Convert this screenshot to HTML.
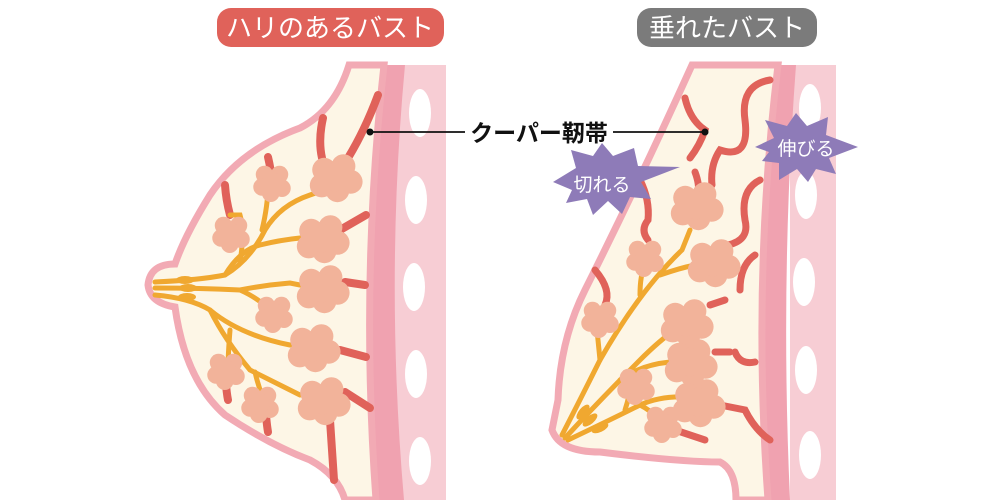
<!DOCTYPE html>
<html><head><meta charset="utf-8"><style>
html,body{margin:0;padding:0;background:#fff;}
svg{display:block}
text{font-family:"Liberation Sans","Noto Sans CJK JP",sans-serif;}
</style></head><body>
<svg width="1000" height="500" viewBox="0 0 1000 500" xmlns="http://www.w3.org/2000/svg">
<defs>
<g id="lob0">
<circle cx="-9" cy="-6" r="10"/><circle cx="7" cy="-9" r="10"/><circle cx="13" cy="4" r="10"/><circle cx="2" cy="11" r="10"/><circle cx="-11" cy="7" r="10"/><circle cx="0" cy="0" r="12"/>
</g>
<g id="lob"><use href="#lob0" transform="scale(1.2)"/></g>
<g id="lobS0">
<circle cx="-6" cy="-6" r="7"/><circle cx="6" cy="-6" r="7"/><circle cx="8" cy="5" r="7"/><circle cx="-1" cy="9" r="7"/><circle cx="-8" cy="4" r="7"/><circle cx="0" cy="0" r="8"/>
</g>
<g id="lobS"><use href="#lobS0" transform="scale(1.25)"/></g>
</defs>

<!-- pills -->
<rect x="217" y="8" width="227" height="39" rx="14" fill="#e0625a"/>
<text x="330" y="37" font-size="26" fill="#fff" text-anchor="middle">ハリのあるバスト</text>
<rect x="637" y="8" width="180" height="39" rx="14" fill="#7b7b7b"/>
<text x="727" y="37" font-size="26" fill="#fff" text-anchor="middle">垂れたバスト</text>

<!-- LEFT chest wall -->
<rect x="392" y="65" width="54" height="435" fill="#f7cdd4"/>
<path d="M383 65 L405 65 Q385 280 404 500 L378 500 Q360 280 383 65Z" fill="#f0a2b0"/>
<g fill="#fff"><ellipse cx="420" cy="113" rx="11" ry="24"/><ellipse cx="416" cy="200" rx="11" ry="24"/><ellipse cx="414" cy="287" rx="11" ry="24"/><ellipse cx="416" cy="374" rx="11" ry="24"/><ellipse cx="420" cy="461" rx="11" ry="24"/></g>
<!-- LEFT breast -->
<path d="M349 65 Q335 110 300 128 Q240 150 210 195 Q185 235 175 264 Q150 264 148 285 Q150 303 175 307 Q185 380 225 415 Q270 445 310 460 Q338 475 345 500 L376 500 Q360 280 384 65Z" fill="#fdf6e6" stroke="#f2aab4" stroke-width="7"/>
<g fill="none" stroke="#e0625a" stroke-width="8" stroke-linecap="round">
<path d="M378 95 Q365 130 348 158"/><path d="M323 118 Q318 140 322 158"/><path d="M268 157 Q271 170 272 180"/><path d="M225 185 Q226 200 230 215"/>
<path d="M366 215 L340 230"/><path d="M365 285 L345 282"/><path d="M366 357 L340 350"/><path d="M370 408 L345 392"/><path d="M330 420 Q332 450 334 480"/><path d="M265 400 Q266 420 268 432"/><path d="M225 370 Q226 390 228 400"/>
</g>
<g fill="none" stroke="#f0a830" stroke-width="5" stroke-linecap="round">
<path d="M155 282 Q200 280 225 275 Q250 260 265 230 Q280 205 310 195 L330 188"/>
<path d="M225 275 Q240 250 260 245 Q280 240 300 238"/>
<path d="M240 262 Q245 232 240 215 L230 215"/><path d="M262 230 Q268 205 268 185"/>
<path d="M155 288 Q200 288 240 290 Q265 285 290 283 L300 285"/><path d="M240 290 Q258 298 270 310"/>
<path d="M155 295 Q190 298 210 310 Q240 335 290 345"/><path d="M210 310 Q225 340 250 370 Q280 385 300 395"/><path d="M230 330 Q228 355 228 370"/><path d="M255 372 Q258 385 262 395"/>
</g>
<g fill="#f0a830"><ellipse cx="185" cy="280" rx="9" ry="4"/><ellipse cx="188" cy="288" rx="9" ry="4"/><ellipse cx="187" cy="297" rx="9" ry="4"/></g>
<g fill="#f2b39a">
<use href="#lob" x="335" y="177"/><use href="#lob" x="322" y="238"/><use href="#lob" x="322" y="288"/><use href="#lob" x="313" y="347"/><use href="#lob" x="323" y="400"/>
<use href="#lobS" x="272" y="182"/><use href="#lobS" x="231" y="233"/><use href="#lobS" x="274" y="313"/><use href="#lobS" x="226" y="370"/><use href="#lobS" x="260" y="403"/>
</g>

<!-- RIGHT chest wall -->
<rect x="790" y="65" width="46" height="435" fill="#f7cdd4"/>
<path d="M778 65 L796 65 Q780 280 790 500 L768 500 Q752 280 778 65Z" fill="#f0a2b0"/>
<g fill="#fff"><ellipse cx="810" cy="108" rx="11" ry="24"/><ellipse cx="806" cy="195" rx="11" ry="24"/><ellipse cx="804" cy="282" rx="11" ry="24"/><ellipse cx="806" cy="370" rx="11" ry="24"/><ellipse cx="810" cy="455" rx="11" ry="24"/></g>
<!-- RIGHT breast -->
<path d="M692 65 Q640 180 585 290 Q560 340 558 400 Q555 415 552 430 Q560 452 600 452 Q680 462 720 462 Q736 470 736 500 L768 500 Q752 280 778 65Z" fill="#fdf6e6" stroke="#f2aab4" stroke-width="7"/>
<g fill="none" stroke="#e0625a" stroke-width="7" stroke-linecap="round">
<path d="M685 98 Q690 120 705 130 Q700 145 690 158"/><path d="M695 172 Q700 185 698 195"/>
<path d="M770 80 Q740 85 745 120 Q750 160 720 150 Q710 165 712 185"/>
<path d="M760 180 Q740 190 745 220 Q750 240 728 245"/><path d="M755 255 Q740 265 740 290"/>
<path d="M640 180 Q650 200 648 220 Q640 230 648 240"/><path d="M595 270 Q612 290 605 305"/>
<path d="M725 300 L710 305"/><path d="M730 352 L715 352"/><path d="M755 362 Q740 365 735 352"/>
<path d="M770 440 Q755 430 745 410 L720 405"/><path d="M705 440 Q690 435 675 430"/>
</g>
<g fill="none" stroke="#f0a830" stroke-width="5" stroke-linecap="round">
<path d="M562 435 Q580 400 600 360 Q640 290 682 250 L690 230"/><path d="M600 360 Q598 340 597 330"/><path d="M640 295 Q640 275 645 265"/><path d="M660 275 Q680 268 695 265"/>
<path d="M565 438 Q600 400 640 360 Q660 340 675 330"/><path d="M620 380 Q640 365 670 362"/>
<path d="M568 440 Q610 420 640 405 Q660 396 685 397"/><path d="M625 410 Q630 395 630 385"/><path d="M640 405 Q650 410 660 420"/>
</g>
<g fill="#f0a830"><ellipse cx="583" cy="412" rx="4" ry="9" transform="rotate(40 583 412)"/><ellipse cx="590" cy="420" rx="4" ry="9" transform="rotate(50 590 420)"/><ellipse cx="600" cy="428" rx="4" ry="9" transform="rotate(65 600 428)"/></g>
<g fill="#f2b39a">
<use href="#lob" x="696" y="205"/><use href="#lob" x="713" y="262"/><use href="#lob" x="686" y="322"/><use href="#lob" x="690" y="362"/><use href="#lob" x="698" y="402"/>
<use href="#lobS" x="645" y="257"/><use href="#lobS" x="600" y="318"/><use href="#lobS" x="636" y="385"/><use href="#lobS" x="663" y="423"/>
</g>

<!-- label -->
<line x1="370" y1="132" x2="465" y2="132" stroke="#111" stroke-width="1.8"/>
<line x1="613" y1="132" x2="705" y2="132" stroke="#111" stroke-width="1.8"/>
<circle cx="370" cy="132" r="3.5" fill="#111"/><circle cx="705" cy="132" r="3.5" fill="#111"/>
<text x="539" y="141" font-size="23" fill="#111" text-anchor="middle" font-weight="bold">クーパー靭帯</text>

<!-- starbursts -->
<polygon fill="#8e7bb8" points="553,182 576,168 571,150 593,156 602,143 613,156 634,148 638,166 680,167 641,182 651,199 630,197 622,214 608,201 593,215 587,199 566,203 572,190" />
<text x="602" y="191" font-size="19" fill="#fff" text-anchor="middle">切れる</text>
<polygon fill="#8e7bb8" points="755,147 774,138 765,120 787,126 796,113 807,126 828,117 826,135 858,147 829,158 836,174 816,169 808,182 797,169 779,180 779,163 762,161 769,152" />
<text x="806" y="155" font-size="19" fill="#fff" text-anchor="middle">伸びる</text>
</svg>
</body></html>
